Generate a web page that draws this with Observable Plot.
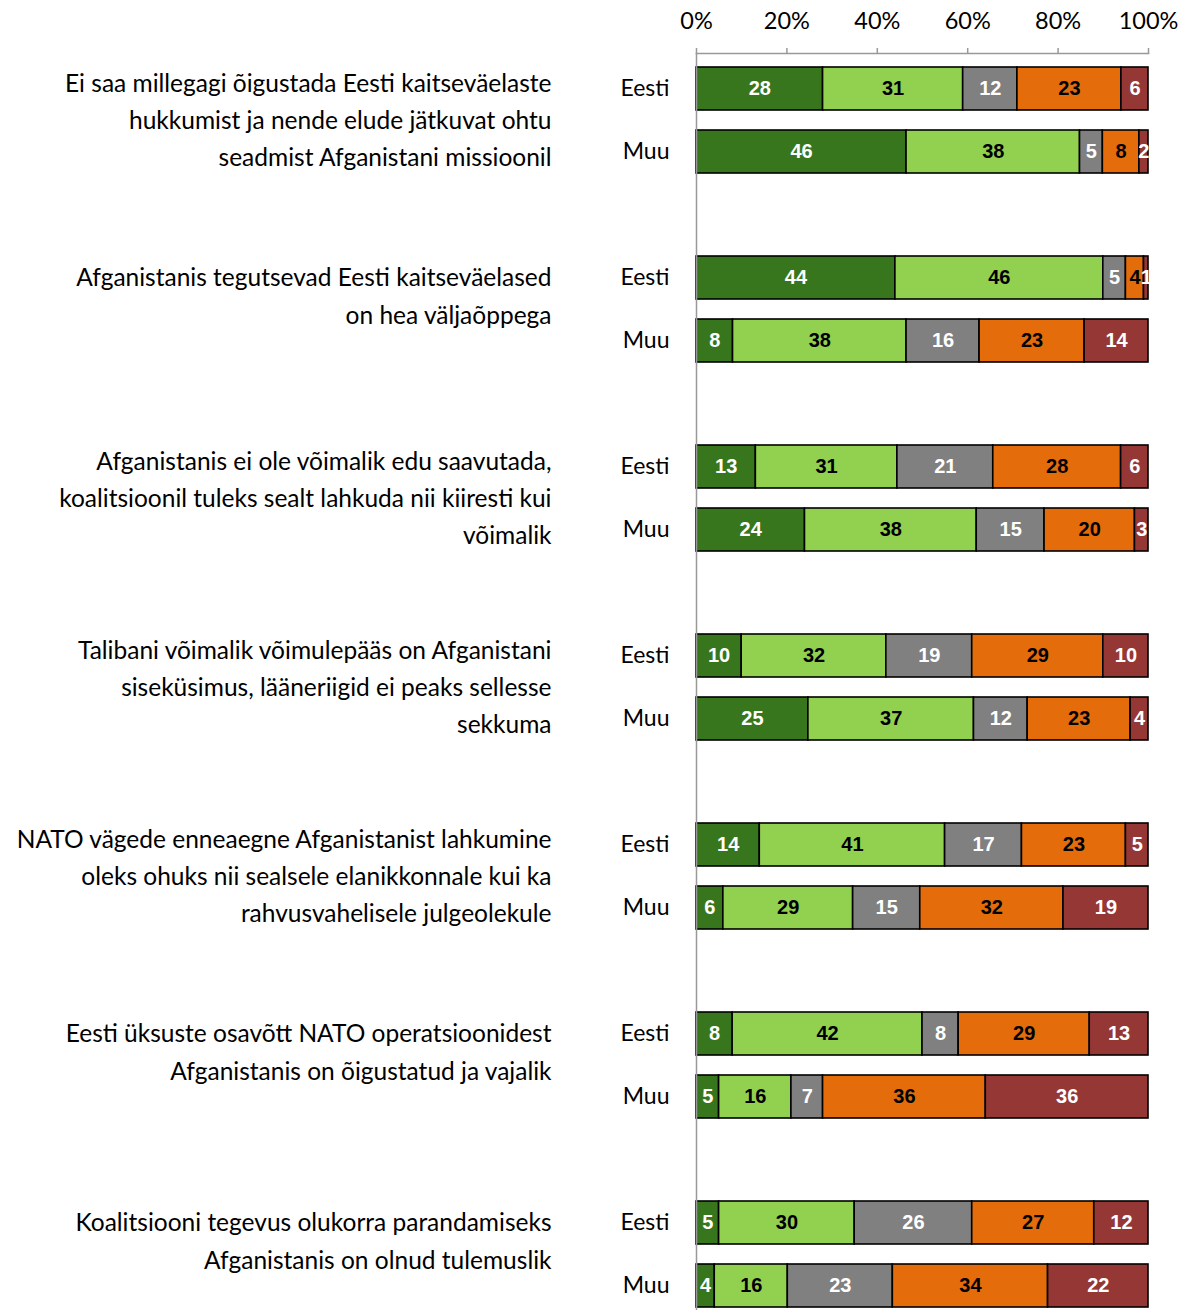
<!DOCTYPE html>
<html>
<head>
<meta charset="utf-8">
<script src="https://cdn.jsdelivr.net/npm/d3@7"></script>
<script src="https://cdn.jsdelivr.net/npm/@observablehq/plot@0.6"></script>
<style>
  body { margin: 0; background: #fff; }
  #chart svg { display: block; }
</style>
</head>
<body>
<div id="chart"></div>
<script>
// Survey statements (line breaks as laid out next to each pair of bars)
const statements = [
  "Ei saa millegagi õigustada Eesti kaitseväelaste\nhukkumist ja nende elude jätkuvat ohtu\nseadmist Afganistani missioonil",
  "Afganistanis tegutsevad Eesti kaitseväelased\non hea väljaõppega",
  "Afganistanis ei ole võimalik edu saavutada,\nkoalitsioonil tuleks sealt lahkuda nii kiiresti kui\nvõimalik",
  "Talibani võimalik võimulepääs on Afganistani\nsiseküsimus, lääneriigid ei peaks sellesse\nsekkuma",
  "NATO vägede enneaegne Afganistanist lahkumine\noleks ohuks nii sealsele elanikkonnale kui ka\nrahvusvahelisele julgeolekule",
  "Eesti üksuste osavõtt NATO operatsioonidest\nAfganistanis on õigustatud ja vajalik",
  "Koalitsiooni tegevus olukorra parandamiseks\nAfganistanis on olnud tulemuslik"
];

const groups = ["Eesti", "Muu"];

const responses = ["Täiesti nõus", "Pigem nõus", "Ei oska öelda", "Pigem ei ole nõus", "Üldse ei ole nõus"];

// Percentages per statement, in response order
const eestiValues = [
  [28, 31, 12, 23, 6],
  [44, 46, 5, 4, 1],
  [13, 31, 21, 28, 6],
  [10, 32, 19, 29, 10],
  [14, 41, 17, 23, 5],
  [8, 42, 8, 29, 13],
  [5, 30, 26, 27, 12]
];
const muuValues = [
  [46, 38, 5, 8, 2],
  [8, 38, 16, 23, 14],
  [24, 38, 15, 20, 3],
  [25, 37, 12, 23, 4],
  [6, 29, 15, 32, 19],
  [5, 16, 7, 36, 36],
  [4, 16, 23, 34, 22]
];

const xTicks = [0, 20, 40, 60, 80, 100];

const responseColors = ["#38761d", "#92d050", "#808080", "#e46c0a", "#953735"];
const labelColors = ["#ffffff", "#000000", "#ffffff", "#000000", "#ffffff"];

// Long table: one row per statement × group × response
const seriesByGroup = {Eesti: eestiValues, Muu: muuValues};
const rows = [];
statements.forEach((s, qi) => {
  groups.forEach(g => {
    seriesByGroup[g][qi].forEach((v, ri) => {
      rows.push({qi, group: g, key: `${qi}|${g}`, ri, response: responses[ri], value: v});
    });
  });
});

// Band domain: Eesti, Muu and a spacer slot between statements
const keys = [];
statements.forEach((s, qi) => {
  keys.push(`${qi}|Eesti`, `${qi}|Muu`);
  if (qi < statements.length - 1) keys.push(`${qi}|gap`);
});
const barKeys = keys.filter(k => !k.endsWith("|gap"));

const stmtRows = statements.map((label, i) => ({i, label, lines: label.split("\n").length}));

const labelFont = "Lato, 'Open Sans', sans-serif";

const chart = Plot.plot({
  width: 1188,
  height: 1310,
  marginLeft: 696,
  marginRight: 40,
  marginTop: 53,
  marginBottom: 0,
  style: {fontFamily: labelFont, fontSize: "23px", color: "#000", background: "#fff"},
  x: {domain: [0, 1], label: null},
  y: {type: "band", domain: keys, range: [55, 1319], paddingInner: 0.32, paddingOuter: 0.16, label: null},
  color: {type: "identity"},
  marks: [
    Plot.barX(rows, Plot.stackX({
      offset: "normalize",
      x: "value",
      y: "key",
      z: "ri",
      fill: d => responseColors[d.ri],
      stroke: "#000",
      strokeWidth: 1.6
    })),
    Plot.text(rows, Plot.stackX({
      offset: "normalize",
      x: "value",
      y: "key",
      z: "ri",
      text: d => String(d.value),
      fill: d => labelColors[d.ri],
      fontFamily: "'Liberation Sans', Arial, sans-serif",
      fontWeight: "bold",
      fontSize: 20
    })),
    Plot.frame({anchor: "top", stroke: "#999", strokeWidth: 1.5}),
    Plot.frame({anchor: "left", stroke: "#999", strokeWidth: 1.5}),
    Plot.axisX({
      anchor: "top",
      label: null,
      ticks: xTicks.map(t => t / 100),
      tickFormat: d => `${Math.round(d * 100)}%`,
      tickSize: 6,
      tickPadding: 19,
      stroke: "#999",
      strokeWidth: 1.5,
      fill: "#000",
      fontSize: 23.5
    }),
    Plot.axisY({
      label: null,
      ticks: barKeys,
      tickFormat: k => k.split("|")[1],
      tickSize: 0,
      tickPadding: 27,
      fill: "#000",
      fontSize: 23
    }),
    // Statement labels: three-line and two-line texts sit slightly differently
    Plot.text(stmtRows.filter(d => d.lines === 3), {
      y: d => `${d.i}|Eesti`,
      text: "label",
      frameAnchor: "left",
      textAnchor: "end",
      lineAnchor: "middle",
      lineHeight: 1.53,
      dx: -145,
      dy: 28,
      fontSize: 24.5,
      fill: "#000"
    }),
    Plot.text(stmtRows.filter(d => d.lines === 2), {
      y: d => `${d.i}|Eesti`,
      text: "label",
      frameAnchor: "left",
      textAnchor: "end",
      lineAnchor: "middle",
      lineHeight: 1.53,
      dx: -145,
      dy: 15,
      fontSize: 24.5,
      fill: "#000"
    })
  ]
});

document.getElementById("chart").append(chart);
</script>
</body>
</html>
